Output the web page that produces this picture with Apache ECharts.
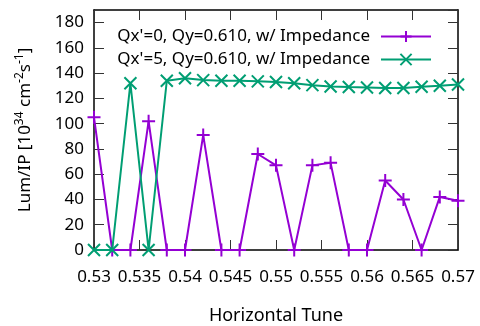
<!DOCTYPE html>
<html>
<head>
<meta charset="utf-8">
<script src="https://cdn.jsdelivr.net/npm/echarts@6/dist/echarts.min.js"></script>
<style>
  html, body { margin: 0; padding: 0; background: #fff; }
  #chartRoot { width: 480px; height: 326px; }
</style>
</head>
<body>
<div id="chartRoot"></div>
<script>
// horizontal tune scan points
const tunes = [0.530, 0.532, 0.534, 0.536, 0.538, 0.540, 0.542, 0.544, 0.546, 0.548, 0.550,
  0.552, 0.554, 0.556, 0.558, 0.560, 0.562, 0.564, 0.566, 0.568, 0.570];
// Qx'=0 series
const lumChrom0 = [105, 0, 0, 102, 0, 0, 91, 0, 0, 76, 67,
  0, 67, 69, 0, 0, 55, 40, 0, 42, 39];
// Qx'=5 series
const lumChrom5 = [0, 0, 132, 0, 134, 136, 134.5, 134, 134, 133.5, 133,
  132, 130.5, 129.5, 129, 128.7, 128.3, 128.3, 129.3, 130, 131];
const seriesNames = ["Qx'=0, Qy=0.610, w/ Impedance", "Qx'=5, Qy=0.610, w/ Impedance"];
const xTicks = [0.53, 0.535, 0.54, 0.545, 0.55, 0.555, 0.56, 0.565, 0.57];
const yTicks = [0, 20, 40, 60, 80, 100, 120, 140, 160, 180];

const FONT = "Noto Sans";
const purple = "#9400d3";
const green = "#009e73";

const plusPath = "path://M0,6L12,6M6,0L6,12";
const crossPath = "path://M0,0L12,12M12,0L0,12";

const chartDom = document.getElementById("chartRoot");
const myChart = echarts.init(chartDom, null, { renderer: "canvas" });

const toPairs = (ys) => tunes.map((t, i) => [t, ys[i]]);

const fmtX = (v) => {
  // drop float noise, trim trailing zeros
  return String(parseFloat(v.toFixed(3)));
};

const option = {
  animation: false,
  textStyle: { fontFamily: FONT, color: "#000" },
  // fixed plot box, don't let v6 shrink it to fit the labels
  grid: { left: 94, right: 22, top: 10, bottom: 76, containLabel: false, outerBoundsMode: "none" },
  legend: {
    orient: "vertical",
    right: 43,
    top: 23,
    align: "right",
    itemWidth: 50,
    itemHeight: 14,
    itemGap: 6,
    textStyle: { fontFamily: FONT, fontSize: 17, color: "#000", padding: [0, 6, 0, 0] },
    data: seriesNames,
  },
  xAxis: [
    {
      type: "value",
      min: xTicks[0],
      max: xTicks[xTicks.length - 1],
      interval: 0.005,
      name: "Horizontal Tune",
      nameLocation: "middle",
      nameGap: 57,
      nameTextStyle: { fontFamily: FONT, fontSize: 18, color: "#000" },
      axisLine: { show: true, onZero: false, lineStyle: { color: "#000", width: 1.5 } },
      axisTick: { show: true, inside: true, length: 10, lineStyle: { color: "#333" } },
      axisLabel: { fontFamily: FONT, fontSize: 17, color: "#000", margin: 19, formatter: fmtX },
      splitLine: { show: false },
    },
    {
      type: "value",
      position: "top",
      min: xTicks[0],
      max: xTicks[xTicks.length - 1],
      interval: 0.005,
      axisLine: { show: true, onZero: false, lineStyle: { color: "#000", width: 1.5 } },
      axisTick: { show: true, inside: true, length: 10, lineStyle: { color: "#333" } },
      axisLabel: { show: false },
      splitLine: { show: false },
    },
  ],
  yAxis: [
    {
      type: "value",
      min: 0,
      max: 190,
      interval: 20,
      name: "Lum/IP [10{sup|34} cm{sup|-2}s{sup|-1}]",
      nameLocation: "middle",
      nameGap: 58,
      nameRotate: 90,
      nameTextStyle: {
        fontFamily: FONT,
        fontSize: 17,
        color: "#000",
        lineHeight: 22,
        rich: {
          sup: { fontFamily: FONT, fontSize: 12, color: "#000", verticalAlign: "top", lineHeight: 12 },
        },
      },
      axisLine: { show: true, lineStyle: { color: "#000", width: 1.5 } },
      axisTick: { show: true, inside: true, length: 10, lineStyle: { color: "#333" } },
      axisLabel: {
        fontFamily: FONT,
        fontSize: 17,
        color: "#000",
        margin: 10,
        showMaxLabel: false,
        formatter: (v) => (yTicks.indexOf(v) >= 0 ? String(v) : ""),
      },
      splitLine: { show: false },
    },
    {
      type: "value",
      position: "right",
      min: 0,
      max: 190,
      interval: 20,
      axisLine: { show: true, lineStyle: { color: "#000", width: 1.5 } },
      axisTick: { show: true, inside: true, length: 10, lineStyle: { color: "#333" } },
      axisLabel: { show: false },
      splitLine: { show: false },
    },
  ],
  series: [
    {
      name: seriesNames[0],
      type: "line",
      data: toPairs(lumChrom0),
      symbol: plusPath,
      symbolSize: 13,
      lineStyle: { color: purple, width: 2 },
      itemStyle: { color: purple, borderColor: purple, borderWidth: 2 },
      z: 2,
    },
    {
      name: seriesNames[1],
      type: "line",
      data: toPairs(lumChrom5),
      symbol: crossPath,
      symbolSize: 12,
      lineStyle: { color: green, width: 2 },
      itemStyle: { color: green, borderColor: green, borderWidth: 2 },
      z: 3,
    },
  ],
};

myChart.setOption(option);
</script>
</body>
</html>
